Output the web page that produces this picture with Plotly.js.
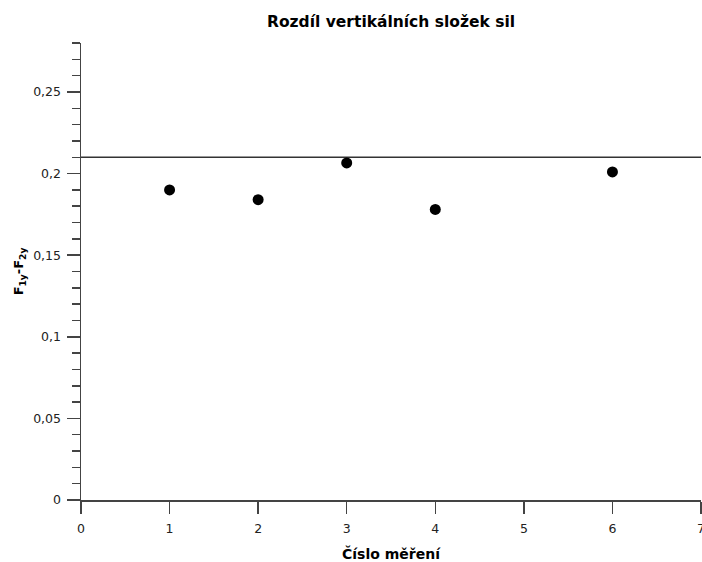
<!DOCTYPE html>
<html>
<head>
<meta charset="utf-8">
<script src="https://cdn.plot.ly/plotly-3.0.1.min.js"></script>
<style>html,body{margin:0;padding:0;background:#fff;} #chart{width:702px;height:562px;}</style>
</head>
<body>
<div id="chart"></div>
<script>
const measurementNo = [1, 2, 3, 4, 6];
const forceDiff = [0.190, 0.184, 0.2065, 0.178, 0.201];
const refLineX = [0, 7];
const refLineY = [0.21, 0.21];

const font = 'Tahoma, "DejaVu Sans", Verdana, sans-serif';

const traces = [
  {
    x: refLineX, y: refLineY, type: 'scatter', mode: 'lines',
    line: {color: '#333', width: 1.5}, hoverinfo: 'skip', cliponaxis: false
  },
  {
    x: measurementNo, y: forceDiff, type: 'scatter', mode: 'markers',
    marker: {color: '#000', size: 11}, cliponaxis: false
  }
];

const layout = {
  width: 702, height: 562,
  margin: {l: 81, r: 1, t: 43, b: 62},
  paper_bgcolor: '#fff', plot_bgcolor: '#fff',
  showlegend: false,
  separators: ', ',
  font: {family: font, size: 12.5, color: '#222'},
  title: {
    text: '<b>Rozdíl vertikálních složek sil</b>',
    font: {family: font, size: 15.5, color: '#000'},
    x: 0.5, xref: 'paper', y: 1 - 22/562, yref: 'container', yanchor: 'middle'
  },
  xaxis: {
    range: [0, 7], dtick: 1, tick0: 0,
    showgrid: false, zeroline: false,
    showline: true, linecolor: '#444', linewidth: 1.5,
    ticks: 'outside', ticklen: 12, tickwidth: 1.5, tickcolor: '#444',
    ticklabelstandoff: 4, ticklabeloverflow: 'allow',
    tickfont: {family: font, size: 12.5, color: '#222'},
    title: {text: '<b>Číslo měření</b>', font: {family: font, size: 14, color: '#000'}, standoff: 14}
  },
  yaxis: {
    range: [0, 0.28], dtick: 0.05, tick0: 0,
    showgrid: false, zeroline: false,
    showline: true, linecolor: '#444', linewidth: 1.5,
    ticks: 'outside', ticklen: 13, tickwidth: 1.5, tickcolor: '#444',
    ticklabelstandoff: 3,
    tickfont: {family: font, size: 12.5, color: '#222'},
    minor: {dtick: 0.01, ticks: 'outside', ticklen: 8, tickwidth: 1.5, tickcolor: '#444', showgrid: false},
    title: {text: '<b>F<sub>1y</sub>-F<sub>2y</sub></b>', font: {family: font, size: 13, color: '#000'}, standoff: 6}
  }
};

Plotly.newPlot('chart', traces, layout, {displayModeBar: false, staticPlot: true});
</script>
</body>
</html>
